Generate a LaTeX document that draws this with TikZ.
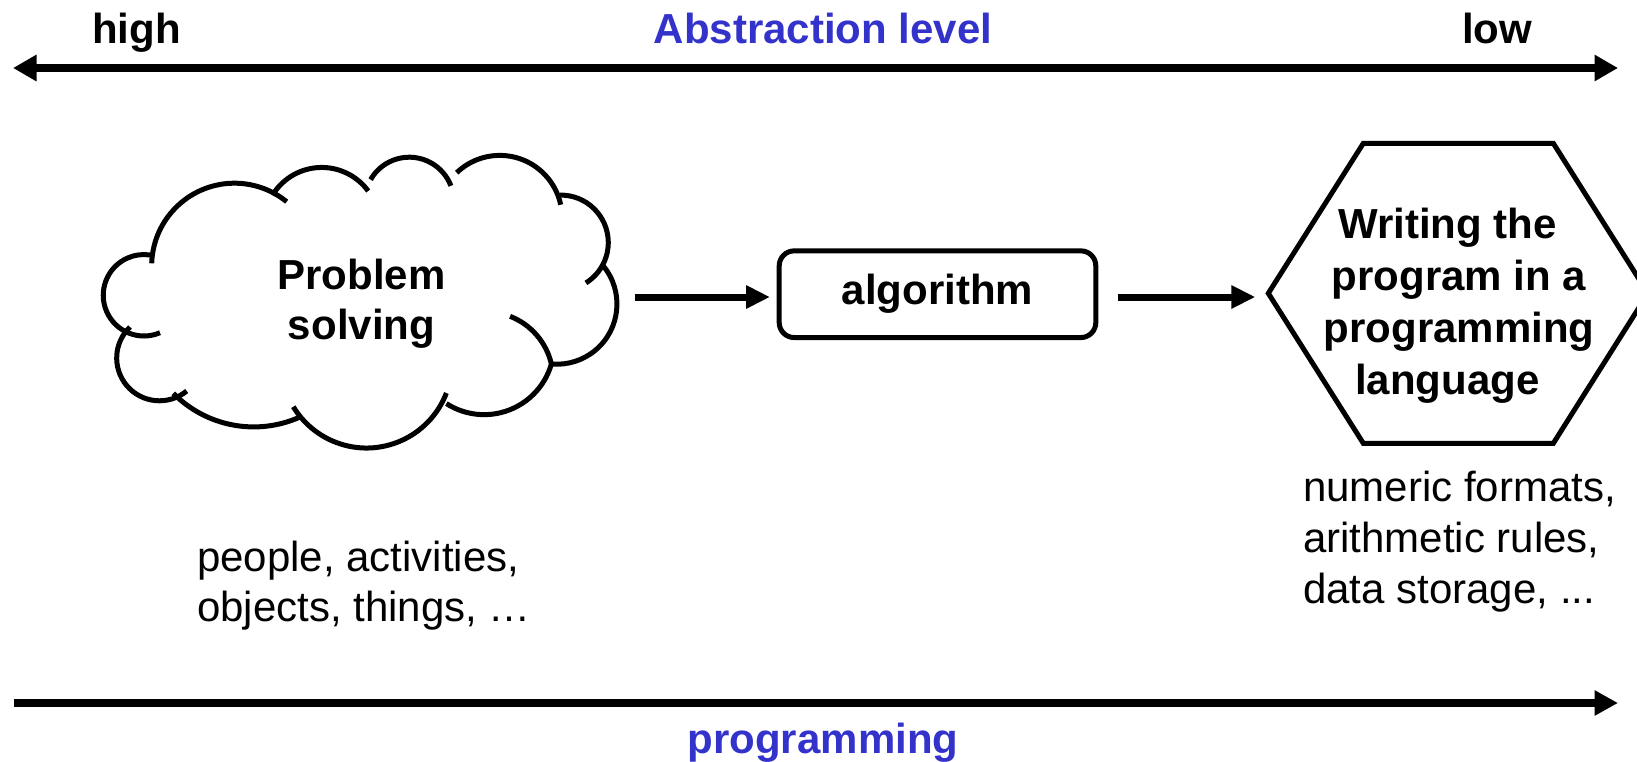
\documentclass[tikz,border=0pt]{standalone}
\usepackage{fontspec}
\setmainfont{Liberation Sans}
\usetikzlibrary{arrows.meta}
\definecolor{absblue}{RGB}{51,51,204}

% one lobe of the cloud: circular arc from (#1,#2) through (#3,#4) to (#5,#6), pixel coordinates
\newcommand\cloudlobe[6]{%
  \pgfmathsetmacro\lbAx{(#1-360)/100}\pgfmathsetmacro\lbAy{(300-#2)/100}%
  \pgfmathsetmacro\lbEx{(#3-360)/100}\pgfmathsetmacro\lbEy{(300-#4)/100}%
  \pgfmathsetmacro\lbBx{(#5-360)/100}\pgfmathsetmacro\lbBy{(300-#6)/100}%
  \pgfmathsetmacro\lbD{2*(\lbAx*(\lbEy-\lbBy)+\lbEx*(\lbBy-\lbAy)+\lbBx*(\lbAy-\lbEy))}%
  \pgfmathsetmacro\lbUx{((\lbAx*\lbAx+\lbAy*\lbAy)*(\lbEy-\lbBy)+(\lbEx*\lbEx+\lbEy*\lbEy)*(\lbBy-\lbAy)+(\lbBx*\lbBx+\lbBy*\lbBy)*(\lbAy-\lbEy))/\lbD}%
  \pgfmathsetmacro\lbUy{((\lbAx*\lbAx+\lbAy*\lbAy)*(\lbBx-\lbEx)+(\lbEx*\lbEx+\lbEy*\lbEy)*(\lbAx-\lbBx)+(\lbBx*\lbBx+\lbBy*\lbBy)*(\lbEx-\lbAx))/\lbD}%
  \pgfmathsetmacro\lbR{100*sqrt((\lbAx-\lbUx)^2+(\lbAy-\lbUy)^2)}%
  \pgfmathsetmacro\lbSa{atan2(\lbAy-\lbUy,\lbAx-\lbUx)}%
  \pgfmathsetmacro\lbEa{atan2(\lbBy-\lbUy,\lbBx-\lbUx)}%
  \pgfmathsetmacro\lbEa{\lbEa>\lbSa ? \lbEa-360 : \lbEa}%
  \draw[cloudline] (#1,#2) arc[start angle=\lbSa, end angle=\lbEa, radius=\lbR pt];%
}

\begin{document}
\begin{tikzpicture}[x=1pt,y=-1pt,
  dblarrow/.style={line width=8.3pt,{Triangle[length=23.5pt,width=25pt]}-{Triangle[length=23.5pt,width=25pt]}},
  bigarrow/.style={line width=8.3pt,-{Triangle[length=23.5pt,width=24pt]}},
  conn/.style={line width=7pt,-{Triangle[length=24pt,width=22pt]}},
  cloudline/.style={line width=5pt},
  boldtxt/.style={font=\fontsize{42}{51.7}\selectfont\bfseries, inner sep=0pt},
  bluetxt/.style={boldtxt, text=absblue},
  plaintxt/.style={font=\fontsize{42}{50.5}\selectfont, inner sep=0pt, align=left},
  algbox/.style={draw, line width=5pt, rounded corners=15pt, minimum width=316.6pt,
    minimum height=86.7pt, inner sep=0pt, font=\fontsize{42}{50}\selectfont\bfseries},
  hexline/.style={line width=5pt}
]
\useasboundingbox (0,0) rectangle (1637,761);
\clip (0,0) rectangle (1637,761);

% top axis
\node[boldtxt, anchor=base west] (high) at (92,43) {high};
\node[bluetxt, anchor=base] (abs) at (823,43) {Abstraction level};
\node[boldtxt, anchor=base west] (low) at (1462,43) {low};
\coordinate (axL) at (13,68);
\coordinate (axR) at (1618,68);
\draw[dblarrow] (axL) -- (axR);

% cloud
\cloudlobe{151.7}{263.3}{230}{183.3}{286.7}{201.7}
\cloudlobe{272.5}{195.1}{324.2}{167.5}{368.2}{191}
\cloudlobe{370.6}{179.6}{410.2}{157.2}{450.9}{185.8}
\cloudlobe{456.7}{172.7}{503.2}{155.5}{560.7}{204.7}
\cloudlobe{560}{195.1}{608.2}{239.9}{585.9}{282.9}
\cloudlobe{603.1}{265.7}{616.9}{301.8}{551.4}{364}
\cloudlobe{510.1}{316.3}{537.7}{336.3}{551.4}{364}
\cloudlobe{551.4}{364}{503.2}{412}{446.4}{403.6}
\cloudlobe{446.4}{393}{365.5}{448}{293.3}{406.7}
\cloudlobe{300}{417}{246.7}{426.7}{173.3}{393.3}
\cloudlobe{186.7}{391}{116.7}{358}{130}{327}
\cloudlobe{160}{332.7}{103.3}{293.3}{150}{255}
% anchor=base of a multi-line node is the baseline of its last line
\node[boldtxt, align=center, anchor=base, font=\fontsize{42}{50}\selectfont\bfseries] (ps) at (361.5,339) {Problem\\solving};
\coordinate (cloudR) at (617,297);

% algorithm box
\node[algbox] (alg) at (937.5,294.2) {algorithm};

% hexagon
\draw[hexline] (1363.3,143.3) coordinate (hexTL) -- (1553.3,143.3) coordinate (hexTR)
  -- (1648,293.3) coordinate (hexR) -- (1553.3,443.3) coordinate (hexBR)
  -- (1363.3,443.3) coordinate (hexBL) -- (1268.3,293.3) coordinate (hexL) -- cycle;
\node[boldtxt, align=center, anchor=base] (ht) at (1459,394)
  {Writing the\kern.55em\\program in a\\programming\\language\kern.55em};

% connectors
\draw[conn, shorten <=18pt, shorten >=6.7pt] (cloudR) -- (cloudR -| alg.west);
\draw[conn, shorten <=20pt, shorten >=13pt] (alg.east |- cloudR) -- (hexL |- cloudR);

% notes
\node[plaintxt, anchor=base west] (ppl) at (197,621.5) {people, activities,\\objects, things, …};
\node[plaintxt, anchor=base west, font=\fontsize{42}{51.3}\selectfont] (num) at (1303,603.6) {numeric formats,\\arithmetic rules,\\data storage, ...};

% bottom axis
\coordinate (pgL) at (13.6,703);
\coordinate (pgR) at (1618,703);
\draw[bigarrow] (pgL) -- (pgR);
\node[bluetxt, anchor=base] (prog) at (823,753) {programming};
\end{tikzpicture}
\end{document}
